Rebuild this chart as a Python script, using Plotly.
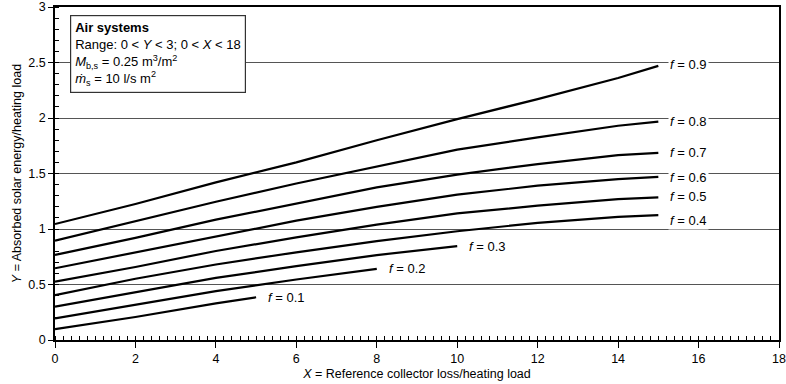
import plotly.graph_objects as go

# X positions (reference collector loss / heating load)
x_long = [0, 2, 4, 6, 8, 10, 12, 14, 15]
x_f03 = [0, 2, 4, 6, 8, 10]
x_f02 = [0, 2, 4, 6, 8]
x_f01 = [0, 2, 4, 5]

# Y values (absorbed solar energy / heating load) for each f-curve
y_f09 = [1.045, 1.225, 1.42, 1.60, 1.80, 1.99, 2.17, 2.36, 2.47]
y_f08 = [0.895, 1.07, 1.245, 1.41, 1.56, 1.715, 1.825, 1.93, 1.967]
y_f07 = [0.766, 0.92, 1.084, 1.23, 1.375, 1.49, 1.585, 1.665, 1.685]
y_f06 = [0.646, 0.79, 0.937, 1.075, 1.20, 1.31, 1.39, 1.45, 1.47]
y_f05 = [0.525, 0.658, 0.802, 0.925, 1.04, 1.14, 1.21, 1.27, 1.285]
y_f04 = [0.405, 0.552, 0.68, 0.79, 0.89, 0.98, 1.055, 1.11, 1.125]
y_f03 = [0.30, 0.431, 0.559, 0.665, 0.765, 0.845]
y_f02 = [0.195, 0.316, 0.441, 0.545, 0.64]
y_f01 = [0.097, 0.207, 0.33, 0.385]

curve_names = ["0.9", "0.8", "0.7", "0.6", "0.5", "0.4", "0.3", "0.2", "0.1"]
curve_x = [x_long, x_long, x_long, x_long, x_long, x_long, x_f03, x_f02, x_f01]
curve_y = [y_f09, y_f08, y_f07, y_f06, y_f05, y_f04, y_f03, y_f02, y_f01]
# label vertical nudges (data units)
label_dy = [0.015, 0.005, 0.0, -0.01, 0.01, -0.045, 0.0, 0.0, 0.0]

FONT = "Liberation Sans, Arial, Helvetica, sans-serif"

fig = go.Figure()
for name, xs, ys, dy in zip(curve_names, curve_x, curve_y, label_dy):
    fig.add_trace(go.Scatter(x=xs, y=ys, mode="lines",
                             line=dict(color="black", width=2.2),
                             showlegend=False, hoverinfo="skip"))
    fig.add_annotation(x=xs[-1] + 0.25, y=ys[-1] + dy, xref="x", yref="y",
                       text="<i>f</i> = " + name, showarrow=False,
                       xanchor="left", yanchor="middle",
                       font=dict(family=FONT, size=13, color="black"),
                       bgcolor="white", borderpad=1)

fig.add_annotation(
    x=0.37, y=2.925, xref="x", yref="y", xanchor="left", yanchor="top",
    align="left", showarrow=False,
    text=("<b>Air systems</b><br>"
          "Range: 0 &lt; <i>Y</i> &lt; 3; 0 &lt; <i>X</i> &lt; 18<br>"
          "<i>M</i><sub>b,s</sub> = 0.25 m<sup>3</sup>/m<sup>2</sup><br>"
          "<i>ṁ</i><sub>s</sub> = 10 l/s m<sup>2</sup>"),
    font=dict(family=FONT, size=13, color="black"),
    bgcolor="white", bordercolor="#333333", borderwidth=1.2, borderpad=4)

fig.update_xaxes(
    range=[0, 18], dtick=2, tick0=0, showgrid=False, zeroline=False,
    showline=True, linecolor="black", linewidth=1.5, mirror=True,
    ticks="outside", ticklen=6, tickwidth=1.2, tickcolor="black",
    minor=dict(dtick=0.2, ticks="inside", ticklen=4, tickwidth=1, tickcolor="black", showgrid=False),
    tickfont=dict(family=FONT, size=12.5, color="black"),
    automargin=False,
    title=dict(text="<i>X</i> = Reference collector loss/heating load",
               font=dict(family=FONT, size=12.5, color="black"), standoff=4))
fig.update_yaxes(
    range=[0, 3], dtick=0.5, tick0=0, showgrid=True, gridcolor="#555555", gridwidth=1,
    zeroline=False, showline=True, linecolor="black", linewidth=1.5, mirror=True,
    ticks="outside", ticklen=5, tickwidth=1.2, tickcolor="black",
    minor=dict(dtick=0.1, ticks="inside", ticklen=4, tickwidth=1, tickcolor="black", showgrid=False),
    tickfont=dict(family=FONT, size=12.5, color="black"),
    automargin=False,
    title=dict(text="<i>Y</i> = Absorbed solar energy/heating load",
               font=dict(family=FONT, size=12.5, color="black"), standoff=4))

fig.update_layout(width=786, height=384, margin=dict(l=55, r=7, t=7, b=44),
                  paper_bgcolor="white", plot_bgcolor="white",
                  font=dict(family=FONT, color="black"))

fig.write_html("out.html",
               config={"displayModeBar": False},
               post_script="document.body.style.margin='0';document.body.style.padding='0';document.body.style.overflow='hidden';")
